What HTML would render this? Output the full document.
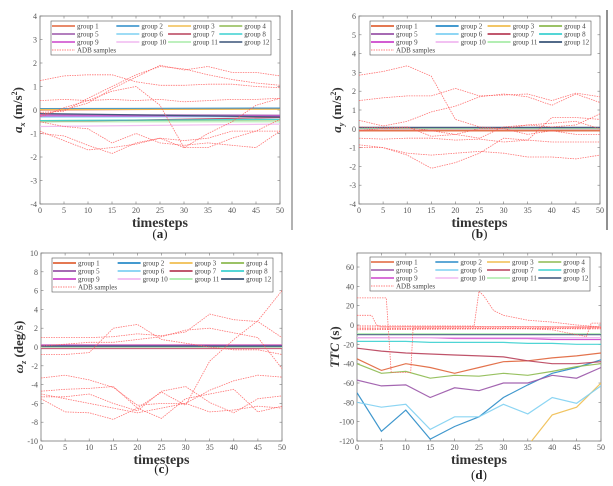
<!DOCTYPE html>
<html><head><meta charset="utf-8"><style>
html,body{margin:0;padding:0;background:#fff;}
svg{display:block;font-family:"Liberation Serif",serif;}
</style></head><body>
<svg id="chart" width="613" height="486" viewBox="0 0 613 486" xmlns="http://www.w3.org/2000/svg">
<line x1="292" y1="10" x2="292" y2="230" stroke="#999" stroke-width="1.5"/>
<line x1="607" y1="10" x2="607" y2="230" stroke="#222" stroke-width="1"/>
</svg>
<script>
// ---------- shared data ----------
const timesteps = [0,5,10,15,20,25,30,35,40,45,50];
const groupNames = ["group 1","group 2","group 3","group 4","group 5","group 6","group 7","group 8","group 9","group 10","group 11","group 12"];
const groupColors = ["#E0643A","#2A8CC8","#F0BE50","#8DBA50","#9A55A8","#7FD0F2","#B8405A","#3CD0D0","#CC44CC","#F0B8F0","#A8ECA8","#3A5478"];
const adbLabel = "ADB samples";

// Panel (a) a_x
const axTicks = [-4,-3,-2,-1,0,1,2,3,4];
const axGroupT = [0,50];
const axGroups = [[0.0,0.05],[0.06,0.08],[0.02,0.03],[-0.45,-0.42],[-0.2,-0.22],[-0.3,-0.28],[-0.5,-0.32],[-0.45,-0.4],[-0.25,-0.26],[-0.7,-0.6],[-0.5,-0.5],[-0.15,-0.3]];
const axAdb = [
 [1.25,1.45,1.5,1.5,1.2,1.05,1.05,1.1,1.1,1.0,0.95],
 [0.4,0.45,0.4,0.45,0.4,0.45,0.35,0.4,0.45,0.45,0.5],
 [-0.1,-0.05,0.5,1.0,1.5,1.85,1.75,1.5,1.3,1.15,1.05],
 [-0.2,0.0,0.3,0.9,1.4,1.9,1.7,1.85,1.6,1.6,1.45],
 [-0.9,-1.3,-1.7,-1.6,-1.45,-1.2,-1.3,-1.2,-0.9,-0.9,-0.9],
 [-0.5,-0.7,-0.8,-1.4,-1.0,-1.4,-1.5,-1.4,-1.5,-1.6,-0.9],
 [-1.0,-1.1,-1.5,-1.85,-1.4,-1.2,-1.6,-1.6,-1.2,-0.9,-0.4],
 [-0.3,0.1,0.4,0.8,1.0,0.2,-1.6,-1.0,-0.5,0.2,0.5]
];
// Panel (b) a_y
const ayTicks = [-4,-3,-2,-1,0,1,2,3,4,5,6];
const ayGroupT = [0,50];
const ayGroups = [[-0.1,-0.1],[0.05,0.05],[0.03,0.03],[0.02,0.02],[0.05,0.05],[0.04,0.04],[0.0,0.0],[0.05,0.05],[0.06,0.06],[0.03,0.03],[0.02,0.02],[0.07,0.07]];
const ayAdb = [
 [2.85,3.05,3.35,2.8,0.5,0.1,0.0,-0.3,-0.1,-0.3,-0.3],
 [1.5,1.65,1.75,1.75,2.15,1.75,1.8,1.85,1.5,1.9,1.7],
 [0.45,0.15,0.4,0.9,1.2,1.7,1.85,1.7,1.25,1.85,1.4],
 [-0.1,0.0,0.05,-0.1,-0.3,-0.5,0.1,0.2,0.3,0.4,0.0],
 [-0.5,-0.55,-0.5,-0.5,-0.6,-0.55,-0.7,-0.6,0.6,0.6,0.5],
 [-0.85,-1.0,-1.3,-1.4,-1.3,-1.2,-1.3,-1.5,-1.5,-1.6,-1.4],
 [-1.0,-1.0,-1.4,-2.1,-1.8,-1.3,-0.5,-0.6,-0.7,-0.7,-0.7],
 [0.1,0.05,0.1,-0.4,-0.3,0.0,0.0,0.2,0.1,0.2,0.8]
];
// Panel (c) omega_z
const wzTicks = [-10,-8,-6,-4,-2,0,2,4,6,8,10];
const wzGroupT = [0,50];
const wzGroups = [[-0.1,-0.1],[0.05,0.05],[0.2,0.2],[0.0,0.0],[0.1,0.1],[0.15,0.15],[-0.15,-0.15],[0.05,0.05],[0.2,0.2],[-0.05,-0.05],[0.0,0.0],[0.1,0.1]];
const wzAdb = [
 [1.0,1.0,1.0,1.1,1.4,1.2,1.6,3.5,2.9,2.7,1.0],
 [-0.8,-0.8,-0.6,2.0,2.4,0.8,0.4,0.0,-0.3,-0.3,-0.8],
 [0.1,0.3,0.5,0.5,0.8,1.1,1.8,2.0,1.5,1.0,-2.3],
 [-3.3,-3.0,-3.5,-4.3,-6.2,-6.0,-6.0,-4.6,-3.6,-3.0,-3.2],
 [-4.7,-4.5,-4.4,-4.2,-6.5,-7.6,-5.5,-5.0,-4.5,-6.9,-6.3],
 [-5.3,-5.3,-5.0,-6.0,-6.8,-4.7,-4.2,-5.9,-7.0,-5.5,-5.2],
 [-5.5,-6.9,-7.0,-7.7,-6.5,-4.8,-6.2,-1.5,0.8,2.8,6.0],
 [-5.0,-5.5,-6.0,-6.5,-7.0,-6.5,-6.0,-6.9,-6.7,-6.3,-6.5]
];
// Panel (d) TTC
const ttcTicks = [-120,-100,-80,-60,-40,-20,0,20,40,60];
const ttcGroupT = [0,5,10,15,20,25,30,35,40,45,50];
const ttcGroups = [
 [-35,-47,-40,-44,-50,-44,-38,-37,-34,-32,-29],
 [-70,-110,-88,-118,-105,-95,-75,-62,-50,-44,-36],
 [null,null,null,null,null,null,null,-125,-93,-85,-60],
 [-40,-50,-48,-55,-52,-53,-50,-52,-48,-43,-40],
 [-57,-63,-62,-75,-65,-68,-60,-60,-52,-55,-44],
 [-80,-85,-82,-108,-95,-95,-82,-92,-75,-81,-63],
 [-24,-27,-29,-30,-31,-32,-33,-37,-40,-40,-38],
 [-17,-17,-17,-18,-18,-18,-18,-19,-19,-20,-20],
 [-13,-13,-13,-13,-14,-14,-14,-14,-15,-15,-15],
 [-13,-13,-13,-13,-13,-13,-13,-13,-13,-13,-13],
 [-9,-9,-9,-9,-9,-9,-9,-9,-9,-9,-9],
 [-10,-10,-10,-10,-10,-10,-10,-10,-10,-10,-10]
];
const ttcAdbT = [
 [0,6,7,7.5,11,11.5,50],
 [0,3,4,5,50],
 [0,24,25,26,28,30,35,40,45,50],
 [0,35,40,45,47,48,50],
 [0,50],[0,50],[0,50]
];
const ttcAdb = [
 [28,28,-49,-49,-49,-3,-3],
 [10,10,0,-2,-2],
 [-1,-1,35,30,15,10,5,3,0,-2],
 [-4,-4,-5,-10,-12,2,2],
 [-3,-4],[-1,-2],[-5,-3]
];
const xTicks = [0,5,10,15,20,25,30,35,40,45,50];

// ---------- drawing ----------
const NS="http://www.w3.org/2000/svg";
const svg=document.getElementById('chart');
function mk(tag,attrs,parent){const e=document.createElementNS(NS,tag);for(const k in attrs)e.setAttribute(k,attrs[k]);(parent||svg).appendChild(e);return e;}

function panel(p){
  const g=mk('g',{});
  
  
  const X=v=>p.x0+(v-0)/(50-0)*(p.x1-p.x0);
  const Y=v=>p.y1-(v-p.ymin)/(p.ymax-p.ymin)*(p.y1-p.y0);
  // frame
  const fr=mk('rect',{x:p.x0,y:p.y0,width:p.x1-p.x0,height:p.y1-p.y0,fill:'#fff',stroke:'#777','stroke-width':0.8},g);
  
  
  // clip
  const cp=mk('clipPath',{id:p.id+'clip'},g);mk('rect',{x:p.x0,y:p.y0,width:p.x1-p.x0,height:p.y1-p.y0},cp);
  // x ticks
  xTicks.forEach(t=>{
    mk('line',{x1:X(t),x2:X(t),y1:p.y1,y2:p.y1-2.5,stroke:'#777','stroke-width':0.6},g);
    mk('line',{x1:X(t),x2:X(t),y1:p.y0,y2:p.y0+2.5,stroke:'#777','stroke-width':0.6},g);
    const tl=mk('text',{x:X(t),y:p.y1+9,'font-size':8,'text-anchor':'middle',fill:'#555'},g);tl.textContent=t;
    
    
  });
  p.yTicks.forEach(t=>{
    mk('line',{x1:p.x0,x2:p.x0+2.5,y1:Y(t),y2:Y(t),stroke:'#777','stroke-width':0.6},g);
    mk('line',{x1:p.x1,x2:p.x1-2.5,y1:Y(t),y2:Y(t),stroke:'#777','stroke-width':0.6},g);
    const tl=mk('text',{x:p.x0-3,y:Y(t)+3,'font-size':8,'text-anchor':'end',fill:'#555'},g);tl.textContent=t;
    
    
  });
  const plot=mk('g',{'clip-path':'url(#'+p.id+'clip)'},g);
  function path(ts,vs){let d='',pen=false;ts.forEach((t,i)=>{const v=vs[i];if(v===null){pen=false;return;}d+=(pen?'L':'M')+X(t).toFixed(1)+','+Y(v).toFixed(1);pen=true;});return d;}
  p.groups.forEach((vs,i)=>{
    const l=mk('path',{d:path(p.groupT,vs),fill:'none',stroke:groupColors[i],'stroke-width':p.gw,'stroke-opacity':0.9},plot);
    
    
  });
  p.adb.forEach((vs,i)=>{
    const ts=p.adbT?p.adbT[i]:timesteps;
    const l=mk('path',{d:path(ts,vs),fill:'none',stroke:'#FF5A5A','stroke-width':0.8,'stroke-dasharray':'1.5,1','stroke-opacity':0.85},plot);
    
    
  });
  // legend
  const lx=p.x0+p.lg[0], ly=p.y0+p.lg[1], lw=p.x1-p.x0-p.lg[0]*2+2;
  const lg=mk('g',{},g);
  
  
  mk('rect',{x:lx,y:ly,width:lw,height:34,fill:'#fff',stroke:'#555','stroke-width':0.6},lg);
  const cols=[1,lw*0.297,lw*0.532,lw*0.765];
  groupNames.forEach((n,i)=>{
    const cx=lx+cols[i%4], cy=ly+5+Math.floor(i/4)*8;
    mk('line',{x1:cx,x2:cx+23,y1:cy,y2:cy,stroke:groupColors[i],'stroke-width':p.gw+0.3},lg);
    const t=mk('text',{x:cx+25,y:cy+2.5,'font-size':7,fill:'#444'},lg);t.textContent=n;
    
    
  });
  mk('line',{x1:lx+cols[0],x2:lx+cols[0]+23,y1:ly+29,y2:ly+29,stroke:'#FF5A5A','stroke-width':0.8,'stroke-dasharray':'1.5,1'},lg);
  const at=mk('text',{x:lx+cols[0]+25,y:ly+31.5,'font-size':7,fill:'#444'},lg);at.textContent=adbLabel;
  
  
  // axis titles
  const xt=mk('text',{x:(p.x0+p.x1)/2,y:p.y1+23,'font-size':14,'font-weight':'bold','text-anchor':'middle',fill:'#333'},g);xt.textContent='timesteps';
  
  
  const yc=(p.y0+p.y1)/2, yx=p.x0-18;
  const yt=mk('text',{x:yx,y:yc,'font-size':13,'font-weight':'bold','text-anchor':'middle',fill:'#333',transform:`rotate(-90 ${yx} ${yc})`},g);
  yt.innerHTML=p.ylab;
  
  
  const sl=mk('text',{x:(p.x0+p.x1)/2,y:p.y1+p.subDy,'font-size':13,'text-anchor':'middle',fill:'#222'},g);
  sl.innerHTML='(<tspan font-weight="bold">'+p.sub+'</tspan>)';
  
  
}

panel({id:'a',x0:40,x1:280,y0:16,y1:204,ymin:-4,ymax:4,yTicks:axTicks,groupT:axGroupT,groups:axGroups,adb:axAdb,gw:1.2,lg:[11,5],sub:'a',subDy:34,
 ylab:'<tspan font-style="italic">a</tspan><tspan font-size="8" dy="3" font-style="italic">x</tspan><tspan dy="-3"> (m/s</tspan><tspan font-size="8" dy="-5">2</tspan><tspan dy="5">)</tspan>'});
panel({id:'b',x0:359,x1:600,y0:16,y1:204,ymin:-4,ymax:6,yTicks:ayTicks,groupT:ayGroupT,groups:ayGroups,adb:ayAdb,gw:1.5,lg:[11,5],sub:'b',subDy:34,
 ylab:'<tspan font-style="italic">a</tspan><tspan font-size="8" dy="3" font-style="italic">y</tspan><tspan dy="-3"> (m/s</tspan><tspan font-size="8" dy="-5">2</tspan><tspan dy="5">)</tspan>'});
panel({id:'c',x0:41,x1:282,y0:253,y1:441,ymin:-10,ymax:10,yTicks:wzTicks,groupT:wzGroupT,groups:wzGroups,adb:wzAdb,gw:1.5,lg:[11,5],sub:'c',subDy:32,
 ylab:'<tspan font-style="italic">ω</tspan><tspan font-size="8" dy="3" font-style="italic">z</tspan><tspan dy="-3"> (deg/s)</tspan>'});
panel({id:'d',x0:357,x1:601,y0:253,y1:441,ymin:-120,ymax:74.5,yTicks:ttcTicks,groupT:ttcGroupT,groups:ttcGroups,adb:ttcAdb,adbT:ttcAdbT,gw:1.2,lg:[13,4],sub:'d',subDy:38,
 ylab:'<tspan font-style="italic">TTC</tspan><tspan> (s)</tspan>'});
</script>
</body></html>
